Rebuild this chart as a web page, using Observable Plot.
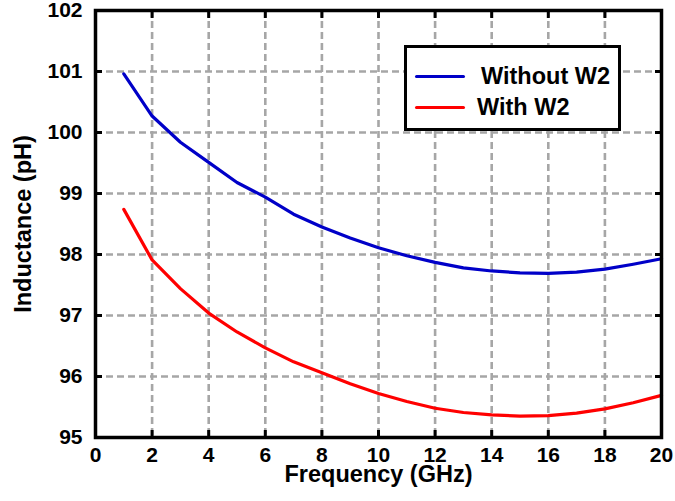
<!DOCTYPE html>
<html>
<head>
<meta charset="utf-8">
<script src="https://cdn.jsdelivr.net/npm/d3@7"></script>
<script src="https://cdn.jsdelivr.net/npm/@observablehq/plot@0.6"></script>
<style>
  html, body { margin: 0; padding: 0; background: #fff; }
  #wrap { position: relative; width: 675px; height: 501px; font-family: "Liberation Sans", Arial, sans-serif; }
  #legend { position: absolute; left: 404px; top: 45px; width: 211px; height: 80px; border: 3px solid #000; background: #fff; box-sizing: content-box; }
  .row { position: absolute; left: 0; height: 30px; display: flex; align-items: center; font-weight: bold; font-size: 23.5px; color: #000; white-space: nowrap; }
  .sw { width: 50px; height: 3px; margin-left: 8px; border-radius: 2px; }
</style>
</head>
<body>
<div id="wrap"></div>
<script>
const frequency = [1,2,3,4,5,6,7,8,9,10,11,12,13,14,15,16,17,18,19,20];
const withoutW2 = [100.96,100.27,99.84,99.51,99.18,98.94,98.66,98.45,98.27,98.11,97.98,97.87,97.78,97.73,97.70,97.69,97.71,97.76,97.84,97.93];
const withW2 = [98.74,97.91,97.44,97.04,96.73,96.47,96.24,96.06,95.88,95.72,95.59,95.48,95.41,95.37,95.35,95.36,95.40,95.47,95.57,95.69];
const xTicks = [0,2,4,6,8,10,12,14,16,18,20];
const yTicks = [95,96,97,98,99,100,101,102];
const seriesNames = ["Without W2", "With W2"];
const seriesColors = ["#0000c8", "#ff0000"];

const rows = [];
frequency.forEach((f, i) => {
  rows.push({f, v: withoutW2[i], s: seriesNames[0]});
  rows.push({f, v: withW2[i], s: seriesNames[1]});
});

const font = "'Liberation Sans', Arial, sans-serif";
const grid = {stroke: "#a6a6a6", strokeOpacity: 1, strokeWidth: 2.6, strokeDasharray: "7,4"};
const noLabel = () => "";
const intFmt = d3.format("d");

const chart = Plot.plot({
  width: 675,
  height: 501,
  marginLeft: 95,
  marginRight: 14,
  marginTop: 10,
  marginBottom: 64,
  style: {fontFamily: font, background: "#fff", overflow: "visible"},
  x: {domain: [0, 20]},
  y: {domain: [95, 102]},
  color: {domain: seriesNames, range: seriesColors},
  marks: [
    Plot.gridX(xTicks, grid),
    Plot.gridY(yTicks, grid),
    Plot.line(rows, {x: "f", y: "v", z: "s", stroke: "s", strokeWidth: 3.2, curve: "linear"}),
    Plot.axisX({ticks: xTicks, tickSize: -7, strokeWidth: 3, tickFormat: noLabel, label: null}),
    Plot.axisX({anchor: "top", ticks: xTicks, tickSize: -7, strokeWidth: 3, tickFormat: noLabel, label: null}),
    Plot.axisY({ticks: yTicks, tickSize: -7, strokeWidth: 3, tickFormat: noLabel, label: null}),
    Plot.axisY({anchor: "right", ticks: yTicks, tickSize: -7, strokeWidth: 3, tickFormat: noLabel, label: null}),
    Plot.axisX({ticks: xTicks, tickSize: 0, tickPadding: 10, tickFormat: intFmt, fontSize: 21, fontWeight: "bold", fill: "#000", label: null}),
    Plot.axisY({ticks: yTicks, tickSize: 0, tickPadding: 13, tickFormat: intFmt, fontSize: 21, fontWeight: "bold", fill: "#000", label: null}),
    Plot.frame({stroke: "#000", strokeWidth: 3.5}),
    Plot.text(["Frequency (GHz)"], {frameAnchor: "bottom", dy: 44, fontSize: 23.5, fontWeight: "bold", fill: "#000"}),
    Plot.text(["Inductance (pH)"], {frameAnchor: "left", textAnchor: "middle", dx: -72, rotate: -90, fontSize: 23.5, fontWeight: "bold", fill: "#000"})
  ]
});
const wrap = document.getElementById("wrap");
wrap.appendChild(chart);

const legend = document.createElement("div");
legend.id = "legend";
seriesNames.forEach((name, i) => {
  const r = document.createElement("div");
  r.className = "row";
  r.style.top = (i === 0 ? 13 : 44) + "px";
  const sw = document.createElement("div");
  sw.className = "sw";
  sw.style.background = seriesColors[i];
  const t = document.createElement("span");
  t.textContent = name;
  t.style.marginLeft = (i === 0 ? 16 : 12) + "px";
  r.appendChild(sw);
  r.appendChild(t);
  legend.appendChild(r);
});
wrap.appendChild(legend);
</script>
</body>
</html>
